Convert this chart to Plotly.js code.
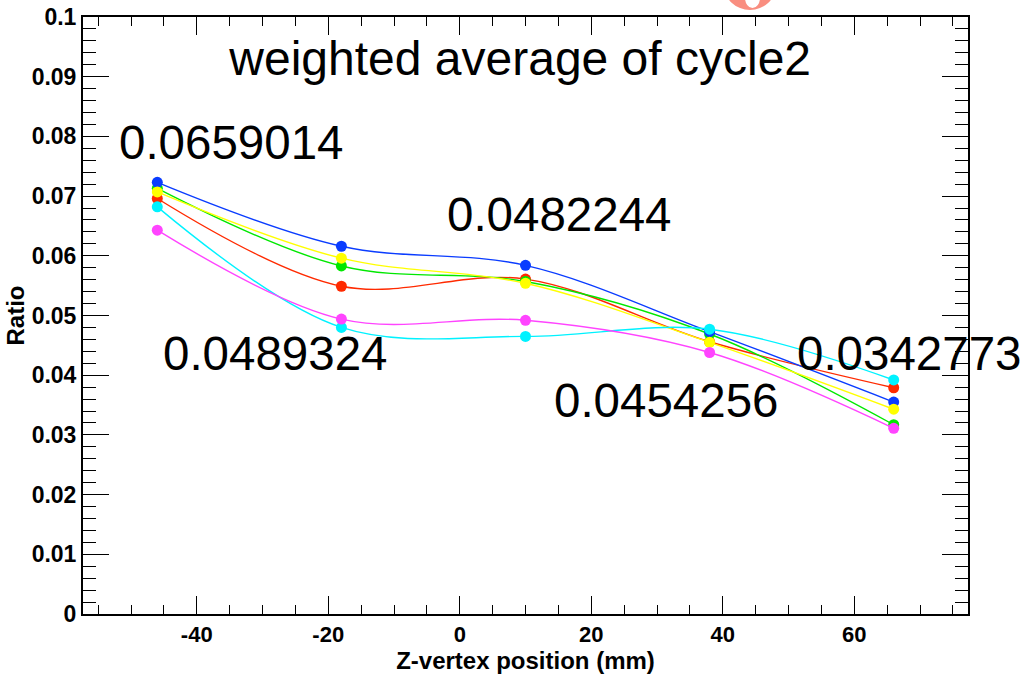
<!DOCTYPE html>
<html>
<head>
<meta charset="utf-8">
<script src="https://cdn.plot.ly/plotly-3.0.1.min.js"></script>
<style>
html,body{margin:0;padding:0;background:#fff;}
#chart{width:1027px;height:677px;}
</style>
</head>
<body>
<div id="chart"></div>
<script>
// ---- data ----
const zPositions = [-46, -18, 10, 38, 66];
const ratioRed     = [0.0696, 0.0549, 0.0561, 0.0456, 0.0379];
const ratioGreen   = [0.0713, 0.0583, 0.0557, 0.0469, 0.0317];
const ratioBlue    = [0.0723, 0.0616, 0.0584, 0.0473, 0.0355];
const ratioYellow  = [0.0707, 0.0596, 0.0554, 0.0455, 0.0343];
const ratioCyan    = [0.0682, 0.0480, 0.0465, 0.0477, 0.0392];
const ratioMagenta = [0.0643, 0.0494, 0.0492, 0.0438, 0.0311];

const labelTexts = ["0.0659014", "0.0482244", "0.0489324", "0.0454256", "0.0342773"];
const labelX     = [-34.7, 15.2, -28.0, 31.5, 68.4];
const labelY     = [0.0789, 0.0670, 0.0437, 0.0357, 0.0437];

const yTickVals = [0, 0.01, 0.02, 0.03, 0.04, 0.05, 0.06, 0.07, 0.08, 0.09, 0.1];
const yTickText = ["0", "0.01", "0.02", "0.03", "0.04", "0.05", "0.06", "0.07", "0.08", "0.09", "0.1"];
const xTickVals = [-40, -20, 0, 20, 40, 60];
const xTickText = ["-40", "-20", "0", "20", "40", "60"];

const chartTitle = "weighted average of cycle2";

// ---- traces ----
const seriesList = [
  {name: "red",     y: ratioRed,     color: "#ff2a00"},
  {name: "green",   y: ratioGreen,   color: "#00e800"},
  {name: "blue",    y: ratioBlue,    color: "#0a3cff"},
  {name: "yellow",  y: ratioYellow,  color: "#ffff00"},
  {name: "cyan",    y: ratioCyan,    color: "#00f2ff"},
  {name: "magenta", y: ratioMagenta, color: "#ff44ff"}
];

const traces = seriesList.map(s => ({
  type: "scatter",
  mode: "lines+markers",
  name: s.name,
  x: zPositions,
  y: s.y,
  line: {color: s.color, width: 1.4, shape: "spline", smoothing: 1},
  marker: {color: s.color, size: 11, symbol: "circle"},
  cliponaxis: false,
  showlegend: false
}));

const fontFam = "Liberation Sans, Arial, Helvetica, sans-serif";

const annotations = labelTexts.map((t, i) => ({
  text: t, x: labelX[i], y: labelY[i], xref: "x", yref: "y",
  showarrow: false, xanchor: "center", yanchor: "middle",
  font: {family: fontFam, size: 47.5, color: "#000"}
}));

const layout = {
  width: 1027, height: 677,
  margin: {l: 83, r: 59, t: 17, b: 63},
  paper_bgcolor: "#fff",
  plot_bgcolor: "#fff",
  showlegend: false,
  title: {
    text: chartTitle,
    font: {family: fontFam, size: 48, color: "#000"},
    x: 0.494, xref: "paper", xanchor: "center",
    y: 0.914, yref: "container", yanchor: "middle"
  },
  xaxis: {
    range: [-57.3, 77.3],
    tickvals: xTickVals, ticktext: xTickText,
    ticks: "inside", ticklen: 18, tickwidth: 1.3, tickcolor: "#000",
    minor: {dtick: 5, tick0: 0, ticks: "inside", ticklen: 9, tickwidth: 1.3, tickcolor: "#000", showgrid: false},
    showline: true, linecolor: "#000", linewidth: 2, mirror: "ticks",
    showgrid: false, zeroline: false,
    tickfont: {family: fontFam, size: 22, color: "#000", weight: "bold"},
    title: {text: "Z-vertex position (mm)", font: {family: fontFam, size: 24, color: "#000", weight: "bold"}, standoff: 4}
  },
  yaxis: {
    range: [0, 0.1],
    tickvals: yTickVals, ticktext: yTickText,
    ticks: "inside", ticklen: 26, tickwidth: 1.3, tickcolor: "#000",
    minor: {dtick: 0.002, tick0: 0, ticks: "inside", ticklen: 13, tickwidth: 1.3, tickcolor: "#000", showgrid: false},
    showline: true, linecolor: "#000", linewidth: 2, mirror: "ticks",
    showgrid: false, zeroline: false,
    tickfont: {family: fontFam, size: 23, color: "#000", weight: "bold"},
    title: {text: "Ratio", font: {family: fontFam, size: 24, color: "#000", weight: "bold"}, standoff: 0}
  },
  annotations: annotations,
  shapes: [
    {type: "circle", xref: "paper", yref: "paper", x0: 0.7243, x1: 0.7830, y0: 1.0117, y1: 1.095,
     fillcolor: "#f98e80", line: {width: 0}, layer: "above"},
    {type: "circle", xref: "paper", yref: "paper", x0: 0.7480, x1: 0.7650, y0: 1.0150, y1: 1.050,
     fillcolor: "#ffffff", line: {width: 0}, layer: "above"}
  ]
};

Plotly.newPlot("chart", traces, layout, {displayModeBar: false, responsive: false});
</script>
</body>
</html>
